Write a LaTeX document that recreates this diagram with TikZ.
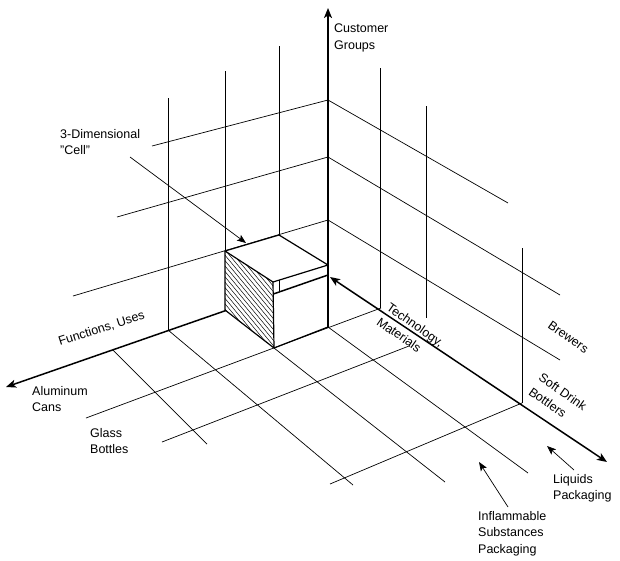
\documentclass[tikz,border=0pt]{standalone}
\usepackage{fontspec}
\setmainfont{Liberation Sans}
\usetikzlibrary{arrows.meta}
\begin{document}
\begin{tikzpicture}[x=1pt,y=-1pt,
  gridline/.style={line width=0.7pt},
  axisline/.style={line width=1.5pt},
  boxedge/.style={line width=1.2pt},
  bigtip/.style={-{Stealth[length=10pt,width=8pt,inset=2.5pt]}},
  twotip/.style={{Stealth[length=10pt,width=8pt,inset=2.5pt]}-{Stealth[length=10pt,width=8pt,inset=2.5pt]}},
  smalltip/.style={-{Stealth[length=9pt,width=7pt,inset=2pt]}},
  lbl/.style={font=\fontsize{12.5}{16.5}\selectfont, inner sep=0pt, align=left},
  rlbl/.style={font=\fontsize{12.5}{17.5}\selectfont, inner sep=0pt, align=left, anchor=north west, rotate=-35},
]
\useasboundingbox (0,0) rectangle (620,560);
\fill[white] (0,0) rectangle (620,560);

% key points
\coordinate (vtop) at (328,8);
\coordinate (vbot) at (328,327);
\coordinate (fO) at (328,275);
\coordinate (fEnd) at (6,387);
\coordinate (tO) at (330,277);
\coordinate (tEnd) at (607,462);

% left back wall
\draw[gridline] (168,98) -- (168,330);
\draw[gridline] (225,71) -- (225,310);
\draw[gridline] (279,46) -- (279,292);
\draw[gridline] (152,146) -- (328,100);
\draw[gridline] (117,217) -- (328,157);
\draw[gridline] (73,296) -- (328,220);

% right back wall
\draw[gridline] (380,68) -- (380,308);
\draw[gridline] (426,106) -- (426,318);
\draw[gridline] (522,248) -- (522,403);
\draw[gridline] (328,100) -- (508,203);
\draw[gridline] (328,157) -- (560,295);
\draw[gridline] (328,220) -- (560,360);

% floor
\draw[gridline] (86,418) -- (381,308);
\draw[gridline] (162,442) -- (409,346);
\draw[gridline] (330,484) -- (522,403);
\draw[gridline] (168,330) -- (353,485);
\draw[gridline] (113,350) -- (207,444);
\draw[gridline] (274,348) -- (445,482);
\draw[gridline] (328,327) -- (528,473);

% axes
\draw[axisline, bigtip] (vbot) -- (vtop);
\draw[axisline, bigtip] (fO) -- (fEnd);
\draw[axisline, twotip] (tO) -- (tEnd);

% the cell
\fill[white] (225,251) -- (279,235) -- (328,265) -- (273,282) -- cycle;
\fill[white] (225,251) -- (273,282) -- (274,348) -- (225,310) -- cycle;
\begin{scope}
  \clip (225,251) -- (273,282) -- (274,348) -- (225,310) -- cycle;
  \foreach \k in {0,...,30} {
    \draw[line width=0.5pt] ({145+\k*4.5},251) -- ++(90,108);
  }
\end{scope}
\draw[boxedge, line join=round] (225,251) -- (279,235) -- (328,265) -- (273,282) -- cycle;
\draw[boxedge, line join=round] (273,282) -- (274,348) -- (225,310) -- (225,251);
\draw[boxedge] (274,348) -- (328,327);
\draw[axisline] (328,260) -- (vbot);

% labels
\node[lbl, anchor=north west] (cg) at (334,24) {Customer\\Groups};
\node[lbl, anchor=north west] (cell) at (60,129) {3-Dimensional\\"Cell"};
\node[lbl, anchor=base west, rotate=18] (fu) at (60,346) {Functions, Uses};
\node[lbl, anchor=north west] (al) at (32,386) {Aluminum\\Cans};
\node[lbl, anchor=north west] (gb) at (90,428) {Glass\\Bottles};
\node[rlbl] (tm) at (391,302) {Technology,\\Materials};
\node[rlbl] (br) at (552,320) {Brewers};
\node[rlbl] (sd) at (543,372) {Soft Drink\\Bottlers};
\node[lbl, anchor=north west] (lp) at (553,474) {Liquids\\Packaging};
\node[lbl, anchor=north west] (ip) at (478,511) {Inflammable\\Substances\\Packaging};

% label arrows
\coordinate (cellA) at (130,157);
\coordinate (cellB) at (246,243);
\coordinate (liqA) at (574,470);
\coordinate (liqB) at (547,446);
\coordinate (infA) at (508,507);
\coordinate (infB) at (479,462);
\draw[gridline, smalltip] (cellA) -- (cellB);
\draw[gridline, smalltip] (liqA) -- (liqB);
\draw[gridline, smalltip] (infA) -- (infB);
\end{tikzpicture}
\end{document}
